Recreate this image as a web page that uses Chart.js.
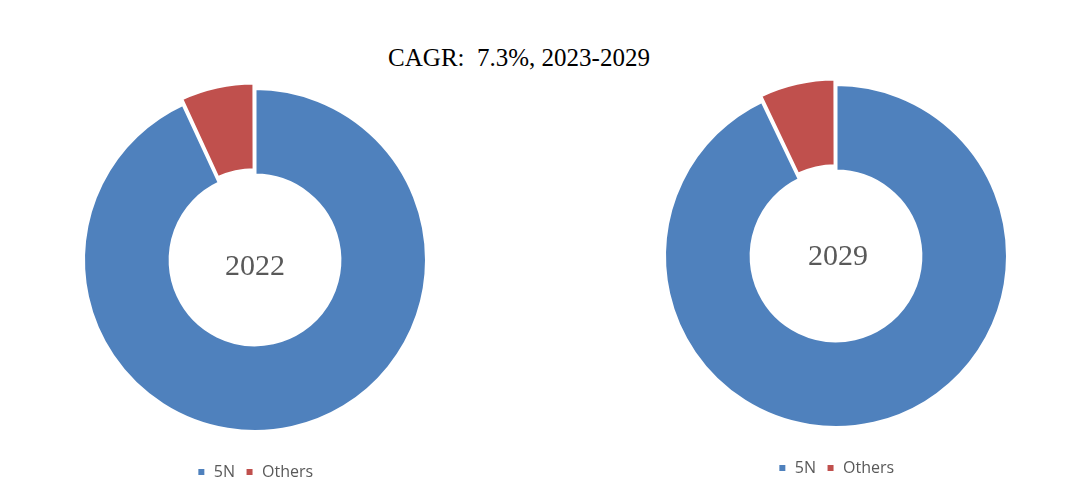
<!DOCTYPE html>
<html>
<head>
<meta charset="utf-8">
<script src="https://cdn.jsdelivr.net/npm/chart.js@4"></script>
<style>
  html, body { margin:0; padding:0; background:#fff; }
  body { width:1089px; height:502px; position:relative; overflow:hidden; }
  .title { position:absolute; left:0; width:1038px; top:44px; text-align:center;
           font-family:"Liberation Serif","DejaVu Serif",serif; font-size:25px; color:#000; }
  .box { position:absolute; width:360px; height:424px; }
  .center { position:absolute; width:200px; text-align:center;
            font-family:"Liberation Serif","DejaVu Serif",serif; font-size:30px; color:#595959; }
</style>
</head>
<body>
<div class="title">CAGR:&nbsp; 7.3%, 2023-2029</div>
<div class="box" style="left:75px; top:66px;"><canvas id="c1" width="360" height="424"></canvas></div>
<div class="box" style="left:656px; top:62px;"><canvas id="c2" width="360" height="424"></canvas></div>
<div class="center" style="left:155px; top:248px;">2022</div>
<div class="center" style="left:738px; top:238px;">2029</div>
<script>
const categories = ["5N", "Others"];
const values2022 = [93.1, 6.9];
const values2029 = [92.9, 7.1];
const colors = ["#4F81BD", "#C0504D"];

function makeChart(id, values) {
  return new Chart(document.getElementById(id), {
    type: "doughnut",
    data: {
      labels: categories,
      datasets: [{
        data: values,
        backgroundColor: colors,
        borderColor: "#ffffff",
        borderWidth: 3,
        offset: [0, 14],
        hoverOffset: 0
      }]
    },
    options: {
      responsive: false,
      animation: false,
      cutout: "49.5%",
      layout: { padding: 0 },
      plugins: {
        tooltip: { enabled: false },
        legend: {
          position: "bottom",
          labels: {
            boxWidth: 9, boxHeight: 9, padding: 10,
            color: "#595959",
            font: { family: "'Open Sans', 'Liberation Sans', sans-serif", size: 16 }
          }
        }
      }
    }
  });
}
makeChart("c1", values2022);
makeChart("c2", values2029);
</script>
</body>
</html>
